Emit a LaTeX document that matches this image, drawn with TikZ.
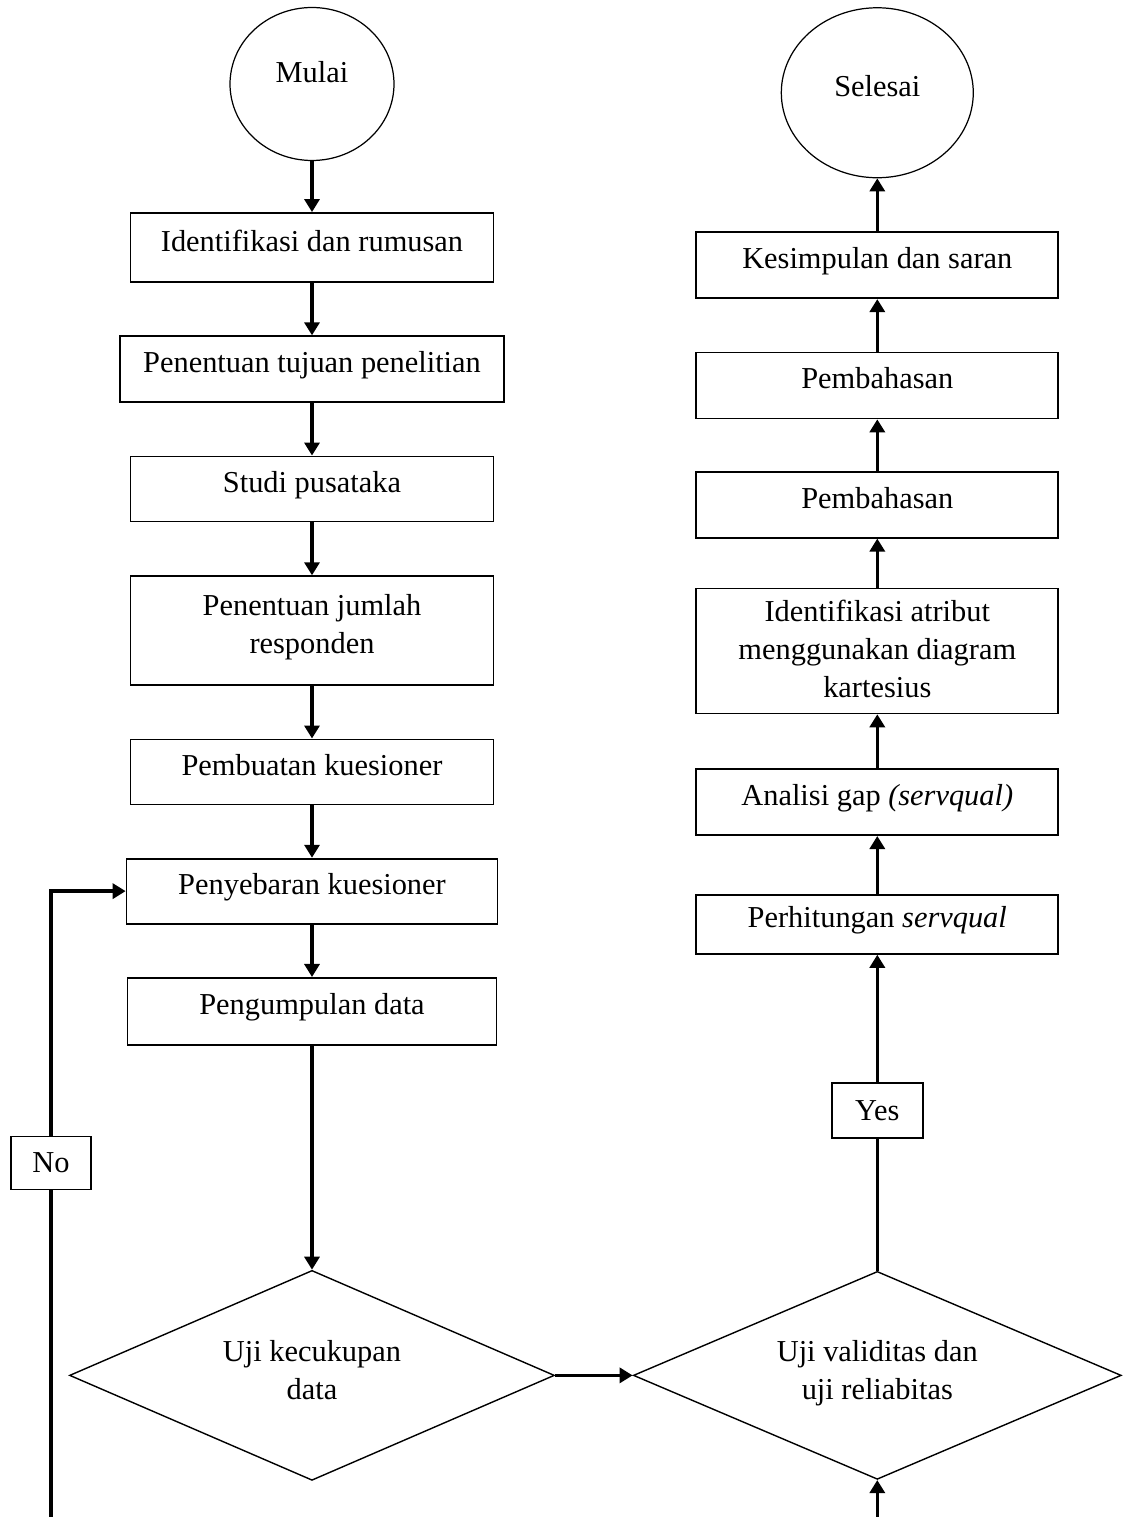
\documentclass[tikz,border=0pt]{standalone}
\usepackage{fontspec}
\setmainfont{Liberation Serif}
\usetikzlibrary{positioning, arrows.meta, shapes.geometric}

\begin{document}
\begin{tikzpicture}[
  x=0.02cm, y=-0.02cm,
  box/.style={rectangle, draw, line width=1pt, minimum width=7.26cm,
              minimum height=1.32cm, inner ysep=2pt, align=center, text depth=0.8em},
  rbox/.style={box, minimum width=7.24cm},
  term/.style={ellipse, draw, line width=0.7pt, inner sep=0pt},
  cond/.style={diamond, draw, line width=0.8pt, minimum width=9.7cm,
               minimum height=4.2cm, shape aspect=2.3, inner sep=1pt,
               align=center, text depth=0.6em},
  lbl/.style={rectangle, draw, line width=1pt, minimum width=1.6cm,
              minimum height=1.06cm},
  arr/.style={-{Triangle[length=0.26cm, width=0.3cm]}, line width=2pt},
  line/.style={line width=2pt},
  node distance=1.05cm,
  font=\fontsize{17.3}{21.5}\selectfont,
]
\useasboundingbox (0,0) rectangle (1125,1517);

\node[term, minimum width=3.28cm, minimum height=3.06cm, text depth=1.35em] (mulai) at (312,84) {Mulai};
\node[box, minimum height=1.38cm, below=1.02cm of mulai] (identif) {Identifikasi dan rumusan};
\node[box, minimum width=7.68cm, below=of identif] (tujuan) {Penentuan tujuan penelitian};
\node[box, minimum height=1.3cm, below=of tujuan] (studi) {Studi pusataka};
\node[box, minimum height=2.18cm, below=1.06cm of studi] (jumlah) {Penentuan jumlah\\responden};
\node[box, minimum height=1.3cm, below=of jumlah] (buat) {Pembuatan kuesioner};
\node[box, minimum width=7.42cm, minimum height=1.3cm, below=of buat] (sebar) {Penyebaran kuesioner};
\node[box, minimum width=7.38cm, minimum height=1.34cm, below=of sebar] (kumpul) {Pengumpulan data};
\node[cond, below=4.48cm of kumpul] (cukup) {Uji kecukupan\\data};

\node[cond, minimum width=9.76cm, minimum height=4.16cm, right=1.55cm of cukup] (valid) {Uji validitas dan\\uji reliabitas};
\node[lbl, minimum width=1.82cm, minimum height=1.1cm, above=2.64cm of valid] (yes) {Yes};
\node[rbox, minimum height=1.18cm, above=6.32cm of valid] (hitung) {Perhitungan \textit{servqual}};
\node[rbox, above=1.16cm of hitung] (gap) {Analisi gap \textit{(servqual)}};
\node[rbox, minimum height=2.5cm, text depth=0.25em, above=1.08cm of gap] (atribut) {Identifikasi atribut\\menggunakan diagram\\kartesius};
\node[rbox, above=0.98cm of atribut] (bahas1) {Pembahasan};
\node[rbox, above=1.03cm of bahas1] (bahas2) {Pembahasan};
\node[rbox, above=of bahas2] (simpul) {Kesimpulan dan saran};
\node[term, minimum width=3.84cm, minimum height=3.4cm, text depth=0.75em, above=1.06cm of simpul] (selesai) {Selesai};

\node[lbl] (no) at (51,1163) {No};
\coordinate (noend) at (51,1517);
\coordinate (inend) at (valid.south |- 0,1517);

\draw[arr] (mulai) -- (identif);
\draw[arr] (identif) -- (tujuan);
\draw[arr] (tujuan) -- (studi);
\draw[arr] (studi) -- (jumlah);
\draw[arr] (jumlah) -- (buat);
\draw[arr] (buat) -- (sebar);
\draw[arr] (sebar) -- (kumpul);
\draw[arr] (kumpul) -- (cukup);
\draw[arr] (cukup) -- (valid);
\draw[line] (noend) -- (no);
\draw[arr] (no) |- (sebar);
\draw[arr] (inend) -- (valid.south);
\draw[line] (valid) -- (yes);
\draw[arr] (yes) -- (hitung);
\draw[arr] (hitung) -- (gap);
\draw[arr] (gap) -- (atribut);
\draw[arr] (atribut) -- (bahas1);
\draw[arr] (bahas1) -- (bahas2);
\draw[arr] (bahas2) -- (simpul);
\draw[arr] (simpul) -- (selesai);
\end{tikzpicture}
\end{document}
